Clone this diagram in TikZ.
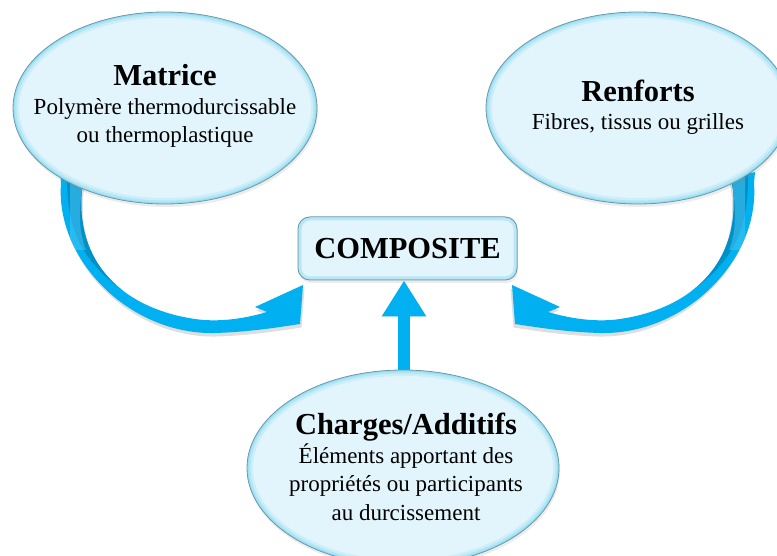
\documentclass[tikz,border=0pt]{standalone}
\usepackage{fontspec}
\setmainfont{Liberation Serif}
\usetikzlibrary{shapes.geometric,arrows.meta,shadows,calc}
\definecolor{arrowblue}{HTML}{00B0F0}
\definecolor{arrowdark}{HTML}{0090C8}
\definecolor{ellin}{HTML}{E3F5FC}
\definecolor{ellglow}{HTML}{8FDDF2}
\definecolor{bordercol}{HTML}{6E98AA}
\newcommand\myarrowpath{(60,172) -- (61,183) .. controls (55,260) and (130,335) .. (215,333) .. controls (250,332) and (280,327) .. (300,324) -- (303,285) -- (255,307) -- (267,312) .. controls (240,320) and (215,322) .. (195,319) .. controls (120,308) and (75,260) .. (82,190) -- (84,178) -- cycle}
\newcommand\mytitle[1]{{\fontsize{30.5}{28.5}\selectfont\bfseries #1}\\}
\newcommand\glowell[3]{%
  \begin{scope}
    \clip #1 ellipse ({#2} and {#3});
    \draw[ellglow, line width=12pt, opacity=0.25] #1 ellipse ({#2} and {#3});
    \draw[ellglow, line width=7pt, opacity=0.45] #1 ellipse ({#2} and {#3});
    \draw[ellglow, line width=3pt, opacity=0.8] #1 ellipse ({#2} and {#3});
  \end{scope}
  \draw[bordercol, line width=0.8pt] #1 ellipse ({#2} and {#3});}
\tikzset{
  ellnode/.style={ellipse, fill=ellin, inner sep=0pt,
    minimum width=304pt, minimum height=192pt,
    drop shadow={shadow xshift=1pt, shadow yshift=-3pt, opacity=0.15}},
  elltext/.style={align=center, inner sep=0pt, font=\fontsize{23}{28.5}\selectfont},
  boxnode/.style={rectangle, rounded corners=12pt, draw=bordercol, line width=1pt,
    fill=ellin, minimum width=219pt, minimum height=63pt, inner sep=0pt,
    font=\fontsize{30.5}{30}\selectfont\bfseries,
    drop shadow={shadow xshift=1pt, shadow yshift=-3pt, opacity=0.15}},
  arrowshadow/.style={black, opacity=0.13},
  curv/.pic={
    \fill[arrowshadow, shift={(1.5,3.5)}] \myarrowpath;
    \fill[arrowblue] \myarrowpath;
    \begin{scope}
      \clip \myarrowpath;
      \fill[arrowdark] (67,165) -- (67,183) .. controls (68,230) and (82,262) .. (125,292) -- (200,292) -- (200,165) -- cycle;
      \fill[arrowblue!70!white, opacity=0.5] (84,165) -- (82,190) .. controls (78,215) and (80,235) .. (86,250) -- (70,250) -- (70,165) -- cycle;
    \end{scope}
  }
}
\begin{document}
\begin{tikzpicture}[x=1pt, y=-1pt]
\useasboundingbox (0,0) rectangle (777,556);
\clip (0,0) rectangle (777,556);
% curved arrows (behind the ellipses)
\pic at (0,0) {curv};
\pic[xscale=-1] at (815,0) {curv};
% composite box
\node[boxnode] (comp) at (407.5,248.5) {COMPOSITE};
\draw[ellglow, line width=3pt, opacity=0.5, rounded corners=10pt]
  ($(comp.north west)+(2.5,2.5)$) rectangle ($(comp.south east)+(-2.5,-2.5)$);
% vertical arrow
\coordinate (chtop) at (404,372);
\draw[arrowshadow, line width=12pt, -{Triangle[width=42pt, length=36pt]}, shift={(1.5,3)}] (chtop) -- (comp.south -| chtop);
\draw[arrowblue, line width=12pt, -{Triangle[width=42pt, length=36pt]}] (chtop) -- (comp.south -| chtop);
% ellipses
\node[ellnode] (matrice) at (165,108) {};
\glowell{(matrice.center)}{152}{96}
\node[elltext] (matricetxt) at (165,106) {\mytitle{Matrice}Polymère thermodurcissable\\ou thermoplastique};
\node[ellnode] (renforts) at (638,108) {};
\glowell{(renforts.center)}{152}{96}
\node[elltext] (renfortstxt) at (638,107) {\mytitle{Renforts}Fibres, tissus ou grilles};
\node[ellnode, minimum width=312pt, minimum height=196pt] (charges) at (403,468) {};
\glowell{(charges.center)}{156}{98}
\node[elltext] (chargestxt) at (406,467)
  {\mytitle{Charges/Additifs}Éléments apportant des\\propriétés ou participants\\au durcissement};
\end{tikzpicture}
\end{document}
